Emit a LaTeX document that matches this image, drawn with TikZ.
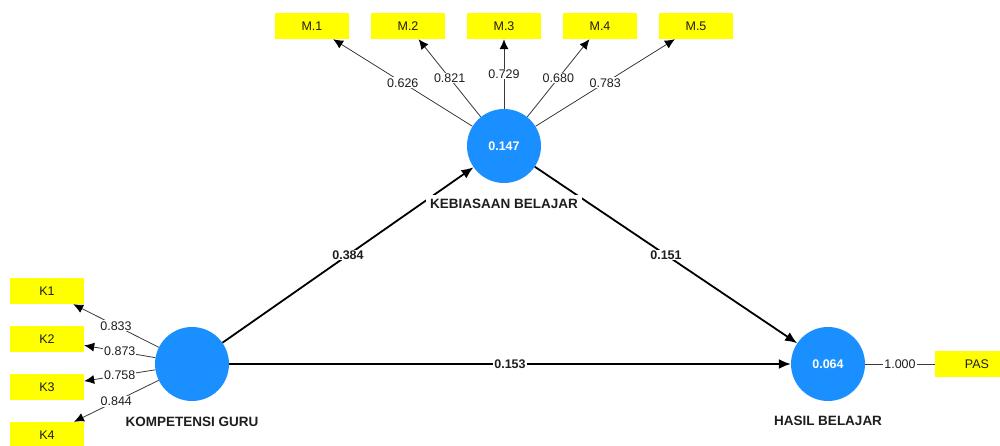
\documentclass[tikz,border=0pt]{standalone}
\usepackage{fontspec}
\setmainfont{Liberation Sans}
\usetikzlibrary{arrows.meta}
\definecolor{lvblue}{HTML}{1A8FFF}
\definecolor{indyellow}{HTML}{FFFF00}
\definecolor{txtgray}{HTML}{1E1E1E}
\definecolor{linegray}{HTML}{3A3A3A}
\begin{document}
\begin{tikzpicture}
[x=1pt,y=-1pt,font=\fontsize{12.5}{14}\selectfont,
  latentdecorate/.style={shape=circle,fill=lvblue,minimum size=74pt,inner sep=0pt,%
    text=white,font=\fontsize{12.5}{14}\selectfont\bfseries},
  indicatordecorate/.style={shape=rectangle,fill=indyellow,minimum width=74pt,%
    minimum height=26pt,inner sep=0pt,text=txtgray},
  namedecorate/.style={fill=white,inner sep=4pt,text=txtgray,%
    font=\fontsize{13.5}{15}\selectfont\bfseries},
  loaddecorate/.style={-{Latex[length=10pt,width=9pt,color=black]},draw=linegray,line width=0.8pt},
  plaindecorate/.style={draw=linegray,line width=0.8pt},
  pathdecorate/.style={-{Latex[length=12pt,width=10pt]},line width=1.8pt},
  weightlabel/.style={fill=white,inner sep=1pt,text=txtgray},
  pathlabel/.style={fill=white,inner sep=1pt,text=txtgray,font=\fontsize{12.5}{14}\selectfont\bfseries}]
\useasboundingbox (0,0) rectangle (1000,446);
% latent variables
\node (kb) at (504,146) [latentdecorate] {0.147};
\node (kg) at (192,364) [latentdecorate] {};
\node (hb) at (828,364) [latentdecorate] {0.064};
% indicators
\node (m1) at (312,26) [indicatordecorate] {M.1};
\node (m2) at (408,26) [indicatordecorate] {M.2};
\node (m3) at (504,26) [indicatordecorate] {M.3};
\node (m4) at (600,26) [indicatordecorate] {M.4};
\node (m5) at (696,26) [indicatordecorate] {M.5};
\node (k1) at (47,291) [indicatordecorate] {K1};
\node (k2) at (47,339) [indicatordecorate] {K2};
\node (k3) at (47,387) [indicatordecorate] {K3};
\node (k4) at (47,435) [indicatordecorate] {K4};
\node (pas) at (977,364) [indicatordecorate,minimum width=84pt] {PAS};
% outer loadings
\path
(kb) edge[loaddecorate] node[weightlabel] {0.626} (m1)
(kb) edge[loaddecorate] node[weightlabel] {0.821} (m2)
(kb) edge[loaddecorate] node[weightlabel] {0.729} (m3)
(kb) edge[loaddecorate] node[weightlabel] {0.680} (m4)
(kb) edge[loaddecorate] node[weightlabel] {0.783} (m5)
(kg) edge[loaddecorate] node[weightlabel] {0.833} (k1)
(kg) edge[loaddecorate] node[weightlabel] {0.873} (k2)
(kg) edge[loaddecorate] node[weightlabel] {0.758} (k3)
(kg) edge[loaddecorate] node[weightlabel] {0.844} (k4)
(hb) edge[plaindecorate] node[weightlabel] {1.000} (pas);
% path coefficients
\path
(kg) edge[pathdecorate] node[pathlabel] {0.384} (kb)
(kb) edge[pathdecorate] node[pathlabel] {0.151} (hb)
(kg) edge[pathdecorate] node[pathlabel] {0.153} (hb);
% names of the latent variables
\node (kbname) at (504,204) [namedecorate] {KEBIASAAN BELAJAR};
\node (kgname) at (192,422) [namedecorate] {KOMPETENSI GURU};
\node (hbname) at (828,421) [namedecorate] {HASIL BELAJAR};
\end{tikzpicture}
\end{document}
